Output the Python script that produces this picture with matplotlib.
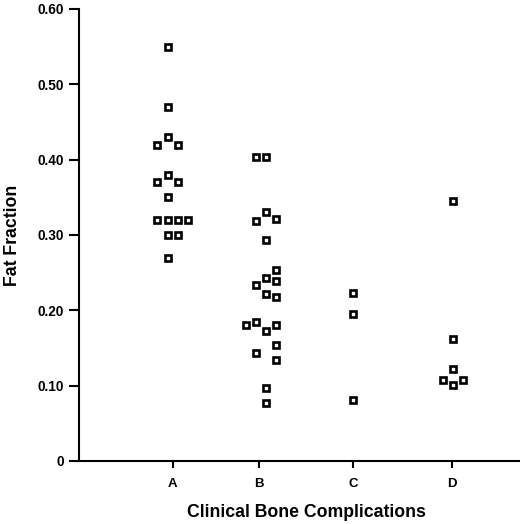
import numpy as np
import matplotlib
matplotlib.use("Agg")
import matplotlib.pyplot as plt

plt.rcParams['font.family'] = ['Liberation Sans', 'DejaVu Sans']

# fat fraction per clinical bone complication group
groups = ['A', 'B', 'C', 'D']
fat_a = [0.55, 0.47, 0.43, 0.42, 0.42, 0.38, 0.37, 0.37, 0.35,
         0.32, 0.32, 0.32, 0.32, 0.30, 0.30, 0.27]
fat_b = [0.403, 0.403, 0.331, 0.321, 0.319, 0.293, 0.254, 0.243, 0.239, 0.234,
         0.222, 0.218, 0.184, 0.181, 0.181, 0.173, 0.154, 0.144, 0.134, 0.097, 0.077]
fat_c = [0.223, 0.195, 0.081]
fat_d = [0.345, 0.162, 0.122, 0.108, 0.108, 0.101]
values = [fat_a, fat_b, fat_c, fat_d]

# scatter slot of each point (prism style spread of overlapping points)
slot_a = [0, 0, 0, -1, 1, 0, -1, 1, 0, -1, 0, 1, 2, 0, 1, 0]
slot_b = [-1, 0, 0, 1, -1, 0, 1, 0, 1, -1, 0, 1, -1, -2, 1, 0, 1, -1, 1, 0, 0]
slot_c = [0, 0, 0]
slot_d = [0, 0, 0, -1, 1, 0]
slots = [slot_a, slot_b, slot_c, slot_d]
shift = [-0.5, 0.65, 0.0, 0.1]

# x layout in axis units (uneven spacing as in the original)
xpos = [93.7, 180.3, 274.3, 372.7]
step = 10.2

fig = plt.figure(figsize=(5.2, 5.24), dpi=100)
ax = fig.add_axes([79 / 520, 63 / 524, 441 / 520, 452 / 524])

for x0, v, s, sh in zip(xpos, values, slots, shift):
    xs = x0 + (np.array(s) + sh) * step
    ax.plot(xs, v, linestyle='none', marker='s', markersize=4.6,
            markerfacecolor='white', markeredgecolor='black', markeredgewidth=1.9,
            clip_on=False)

ax.set_xlim(0, 441)
ax.set_ylim(0, 0.6)
ax.set_xticks(xpos)
ax.set_xticklabels(groups, fontweight='bold', fontsize=9.5)
yt = [0, 0.1, 0.2, 0.3, 0.4, 0.5, 0.6]
ax.set_yticks(yt)
ax.set_yticklabels(['0'] + ['%.2f' % t for t in yt[1:]], fontweight='bold', fontsize=9.8)

for side in ['top', 'right']:
    ax.spines[side].set_visible(False)
for side in ['left', 'bottom']:
    ax.spines[side].set_linewidth(1.5)
ax.tick_params(axis='y', length=7, width=1.5, pad=4)
ax.tick_params(axis='x', length=5, width=1.5, pad=7)

ax.set_xlabel('Clinical Bone Complications', fontweight='bold', fontsize=12.7)
ax.xaxis.set_label_coords(0.515, -0.115)
ax.xaxis.label.set_va('center')
ax.set_ylabel('Fat Fraction', fontweight='bold', fontsize=12.7)
ax.yaxis.set_label_coords(-0.15, 0.5)
ax.yaxis.label.set_va('center')

fig.savefig('out.png', dpi=100)
